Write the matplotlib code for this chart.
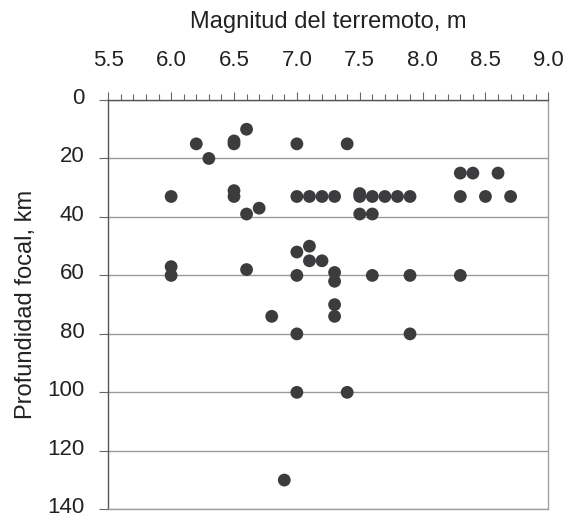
import matplotlib
matplotlib.use("Agg")
import matplotlib.pyplot as plt
import matplotlib.transforms as mtransforms
from matplotlib.ticker import MultipleLocator, FormatStrFormatter

plt.rcParams["font.family"] = ["Liberation Sans", "DejaVu Sans"]

# Magnitude / focal depth pairs
magnitude = [
    6.2, 6.3, 6.5, 6.5, 6.6, 7.0, 7.4,
    8.3, 8.4, 8.6,
    6.0, 6.5, 6.5, 6.6, 6.7,
    7.0, 7.1, 7.2, 7.3, 7.5, 7.5, 7.6, 7.7, 7.8, 7.9,
    8.3, 8.5, 8.7,
    7.5, 7.6,
    7.0, 7.1, 7.1, 7.2,
    6.0, 6.0, 6.6, 7.0, 7.3, 7.3, 7.6, 7.9, 8.3,
    7.3, 7.3, 6.8,
    7.0, 7.9,
    7.0, 7.4,
    6.9,
]
depth = [
    15, 20, 14, 15, 10, 15, 15,
    25, 25, 25,
    33, 31, 33, 39, 37,
    33, 33, 33, 33, 32, 33, 33, 33, 33, 33,
    33, 33, 33,
    39, 39,
    52, 50, 55, 55,
    57, 60, 58, 60, 59, 62, 60, 60, 60,
    70, 74, 74,
    80, 80,
    100, 100,
    130,
]

x_label = "Magnitud del terremoto, m"
y_label = "Profundidad focal, km"
y_ticks = [0, 20, 40, 60, 80, 100, 120, 140]

text_color = "#222222"

fig = plt.figure(figsize=(5.75, 5.16), dpi=100)
ax = fig.add_axes([0.1883, 0.0130, 0.7653, 0.7932])

ax.scatter(magnitude, depth, s=85, color="#3c3c3e", edgecolors="none", zorder=3, clip_on=False)

ax.set_xlim(5.5, 9.0)
ax.set_ylim(140, 0)

# x axis on top with major/minor ticks
ax.xaxis.tick_top()
ax.xaxis.set_label_position("top")
ax.xaxis.set_major_locator(MultipleLocator(0.5))
ax.xaxis.set_minor_locator(MultipleLocator(0.1))
ax.xaxis.set_major_formatter(FormatStrFormatter("%.1f"))
ax.tick_params(axis="x", which="major", direction="out", length=6, width=0.8,
               color="#666666", pad=15, labelsize=16, labelcolor=text_color)
ax.tick_params(axis="x", which="minor", direction="out", length=4, width=0.8,
               color="#666666")

ax.set_yticks(y_ticks)
ax.tick_params(axis="y", direction="out", length=6.5, width=0.8, color="#666666",
               pad=10.5, labelsize=16, labelcolor=text_color)

# y labels sit a little above their tick in the original
shift = mtransforms.ScaledTranslation(0, 3 / 72, fig.dpi_scale_trans)
for lbl in ax.get_yticklabels():
    lbl.set_transform(lbl.get_transform() + shift)

ax.yaxis.grid(True, color="#9a9a9a", linewidth=1.0, zorder=0)
ax.set_axisbelow(True)

ax.spines["left"].set_color("#555555")
ax.spines["top"].set_color("#555555")
ax.spines["right"].set_color("#a0a0a0")
ax.spines["bottom"].set_color("#a0a0a0")
for sp in ax.spines.values():
    sp.set_linewidth(1.0)

ax.set_xlabel(x_label, fontsize=17, color=text_color)
ax.xaxis.set_label_coords(0.5, 1.175)
ax.set_ylabel(y_label, fontsize=17, color=text_color)
ax.yaxis.set_label_coords(-0.162, 0.5)

fig.savefig("out.png", dpi=100)
